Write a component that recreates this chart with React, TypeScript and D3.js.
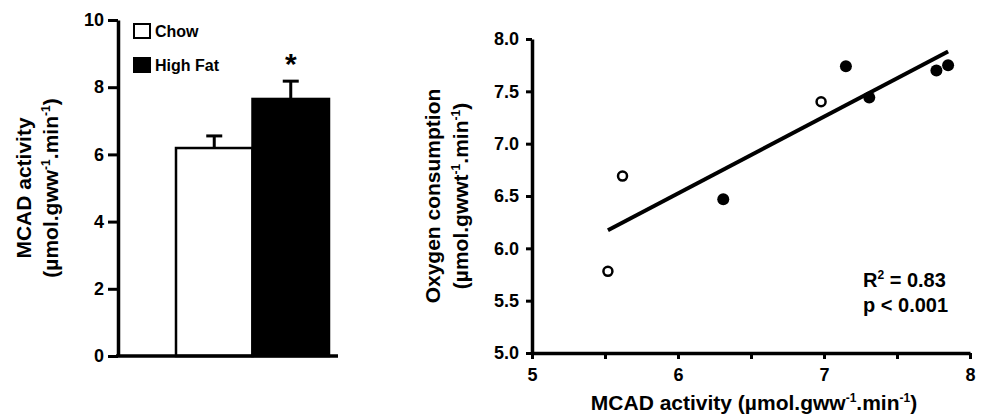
import React, { useEffect, useRef } from 'react';
import * as d3 from 'd3';

// bar panel
const barGroups = ['Chow', 'High Fat'];
const barMeans = [6.19, 7.65];
const barErrors = [0.36, 0.53];
const barTicks = [0, 2, 4, 6, 8, 10];

// scatter panel
const chowX = [5.52, 5.62, 6.98];
const chowY = [5.78, 6.69, 7.4];
const fatX = [6.31, 7.15, 7.31, 7.77, 7.85];
const fatY = [6.47, 7.74, 7.44, 7.7, 7.75];
const scatterXTicks = [5, 5.5, 6, 6.5, 7, 7.5, 8];
const scatterYTicks = [5, 5.5, 6, 6.5, 7, 7.5, 8];
const statLines = ['R', ' = 0.83', 'p < 0.001'];

const FONT = '"Liberation Sans", Arial, sans-serif';

export default function App() {
  const svgRef = useRef<SVGSVGElement>(null);

  useEffect(() => {
    const svg = d3.select(svgRef.current);
    svg.selectAll('*').remove();
    svg.style('font-family', FONT).style('font-weight', 'bold');

    const styleTicks = (g: any) => {
      g.select('.domain').attr('stroke-width', 3.5);
      g.selectAll('.tick line').attr('stroke-width', 3);
      g.selectAll('.tick text')
        .style('font-size', '18px')
        .style('font-family', FONT)
        .style('font-weight', 'bold');
    };

    // ---------- left: bar chart ----------
    const yBar = d3.scaleLinear().domain([0, 10]).range([356, 20]);
    const xBar = d3.scaleBand().domain(barGroups).range([176, 329]).padding(0);
    const bars = svg.append('g');

    // error bars first so the bar outline sits over them
    barGroups.forEach((g, i) => {
      const cx = xBar(g)! + xBar.bandwidth() / 2;
      bars.append('line')
        .attr('x1', cx).attr('x2', cx)
        .attr('y1', yBar(barMeans[i])).attr('y2', yBar(barMeans[i] + barErrors[i]))
        .attr('stroke', '#000').attr('stroke-width', 3);
      bars.append('line')
        .attr('x1', cx - 8).attr('x2', cx + 8)
        .attr('y1', yBar(barMeans[i] + barErrors[i])).attr('y2', yBar(barMeans[i] + barErrors[i]))
        .attr('stroke', '#000').attr('stroke-width', 3);
    });

    bars.selectAll('rect')
      .data(barGroups)
      .enter()
      .append('rect')
      .attr('x', d => xBar(d)!)
      .attr('y', (d, i) => yBar(barMeans[i]))
      .attr('width', xBar.bandwidth())
      .attr('height', (d, i) => yBar(0) - yBar(barMeans[i]))
      .attr('fill', (d, i) => (i === 0 ? '#fff' : '#000'))
      .attr('stroke', '#000')
      .attr('stroke-width', 2.5);

    // asterisk over high fat
    bars.append('text')
      .attr('x', xBar('High Fat')! + xBar.bandwidth() / 2)
      .attr('y', 74)
      .attr('text-anchor', 'middle')
      .style('font-size', '30px')
      .text('*');

    const yAxisL = svg.append('g')
      .attr('transform', 'translate(118,0)')
      .call(d3.axisLeft(yBar).tickValues(barTicks).tickSize(10).tickSizeOuter(0).tickPadding(4));
    styleTicks(yAxisL);

    svg.append('line')
      .attr('x1', 116).attr('x2', 338)
      .attr('y1', yBar(0)).attr('y2', yBar(0))
      .attr('stroke', '#000').attr('stroke-width', 3.5);

    // legend
    const legend = svg.append('g');
    barGroups.forEach((g, i) => {
      legend.append('rect')
        .attr('x', 134).attr('y', 24 + i * 34)
        .attr('width', 16).attr('height', 14)
        .attr('fill', i === 0 ? '#fff' : '#000')
        .attr('stroke', '#000').attr('stroke-width', 2);
      legend.append('text')
        .attr('x', 155).attr('y', 37 + i * 34)
        .style('font-size', '16px')
        .text(g);
    });

    // left y title
    const titleL = svg.append('g').attr('transform', 'rotate(-90)');
    titleL.append('text')
      .attr('x', -188).attr('y', 31)
      .attr('text-anchor', 'middle')
      .style('font-size', '21px')
      .text('MCAD activity');
    const tl2 = titleL.append('text')
      .attr('x', -188).attr('y', 58)
      .attr('text-anchor', 'middle')
      .style('font-size', '21px');
    tl2.append('tspan').text('(µmol.gww');
    tl2.append('tspan').attr('dy', -8).style('font-size', '12px').text('-1');
    tl2.append('tspan').attr('dy', 8).text('.min');
    tl2.append('tspan').attr('dy', -8).style('font-size', '12px').text('-1');
    tl2.append('tspan').attr('dy', 8).text(')');

    // ---------- right: scatter ----------
    const xS = d3.scaleLinear().domain([5, 8]).range([532, 970]);
    const yS = d3.scaleLinear().domain([5, 8]).range([353, 39]);

    const xAxisR = svg.append('g')
      .attr('transform', `translate(0,${yS(5)})`)
      .call(d3.axisBottom(xS).tickValues(scatterXTicks).tickSize(6).tickSizeOuter(0).tickPadding(9)
        .tickFormat(d => (Number.isInteger(+d) ? String(d) : '')));
    styleTicks(xAxisR);

    const yAxisR = svg.append('g')
      .attr('transform', `translate(${xS(5)},0)`)
      .call(d3.axisLeft(yS).tickValues(scatterYTicks).tickSize(6).tickSizeOuter(0).tickPadding(7)
        .tickFormat(d3.format('.1f')));
    styleTicks(yAxisR);

    // least squares fit over all points
    const allX = [...chowX, ...fatX];
    const allY = [...chowY, ...fatY];
    const mx = d3.mean(allX)!;
    const my = d3.mean(allY)!;
    const sxy = d3.sum(allX, (x, i) => (x - mx) * (allY[i] - my));
    const sxx = d3.sum(allX, x => (x - mx) * (x - mx));
    const slope = sxy / sxx;
    const [x0, x1] = d3.extent(allX) as [number, number];
    svg.append('line')
      .attr('x1', xS(x0)).attr('y1', yS(my + slope * (x0 - mx)))
      .attr('x2', xS(x1)).attr('y2', yS(my + slope * (x1 - mx)))
      .attr('stroke', '#000').attr('stroke-width', 4);

    svg.append('g').selectAll('circle')
      .data(chowX)
      .enter()
      .append('circle')
      .attr('cx', d => xS(d))
      .attr('cy', (d, i) => yS(chowY[i]))
      .attr('r', 4.5)
      .attr('fill', '#fff')
      .attr('stroke', '#000')
      .attr('stroke-width', 2.5);

    svg.append('g').selectAll('circle')
      .data(fatX)
      .enter()
      .append('circle')
      .attr('cx', d => xS(d))
      .attr('cy', (d, i) => yS(fatY[i]))
      .attr('r', 6)
      .attr('fill', '#000');

    // stats
    const r2 = svg.append('text').attr('x', 863).attr('y', 287).style('font-size', '20px');
    r2.append('tspan').text(statLines[0]);
    r2.append('tspan').attr('dy', -8).style('font-size', '12px').text('2');
    r2.append('tspan').attr('dy', 8).text(statLines[1]);
    svg.append('text').attr('x', 863).attr('y', 312).style('font-size', '20px').text(statLines[2]);

    // right y title
    const titleR = svg.append('g').attr('transform', 'rotate(-90)');
    titleR.append('text')
      .attr('x', -196).attr('y', 440)
      .attr('text-anchor', 'middle')
      .style('font-size', '21px')
      .text('Oxygen consumption');
    const tr2 = titleR.append('text')
      .attr('x', -196).attr('y', 468)
      .attr('text-anchor', 'middle')
      .style('font-size', '21px');
    tr2.append('tspan').text('(µmol.gwwt');
    tr2.append('tspan').attr('dy', -8).style('font-size', '12px').text('-1');
    tr2.append('tspan').attr('dy', 8).text('.min');
    tr2.append('tspan').attr('dy', -8).style('font-size', '12px').text('-1');
    tr2.append('tspan').attr('dy', 8).text(')');

    // x title
    const xt = svg.append('text')
      .attr('x', 754).attr('y', 410)
      .attr('text-anchor', 'middle')
      .style('font-size', '21px');
    xt.append('tspan').text('MCAD activity (µmol.gww');
    xt.append('tspan').attr('dy', -8).style('font-size', '12px').text('-1');
    xt.append('tspan').attr('dy', 8).text('.min');
    xt.append('tspan').attr('dy', -8).style('font-size', '12px').text('-1');
    xt.append('tspan').attr('dy', 8).text(')');
  }, []);

  return (
    <svg
      ref={svgRef}
      width={981}
      height={419}
      style={{ position: 'absolute', left: 0, top: 0, background: '#fff' }}
    />
  );
}
